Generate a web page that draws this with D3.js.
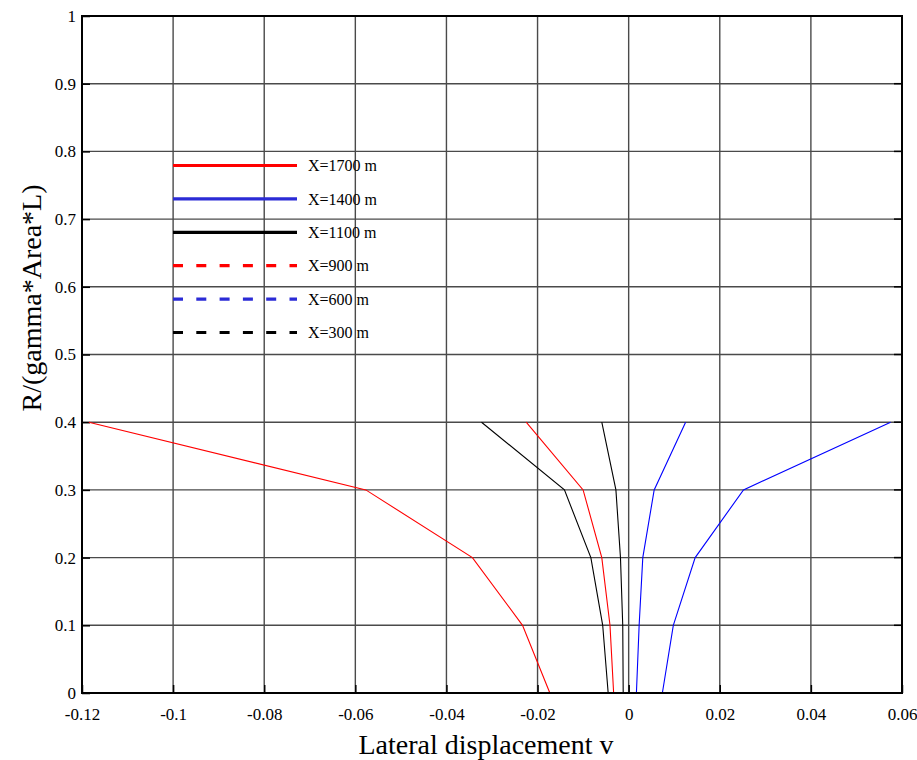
<!DOCTYPE html>
<html>
<head>
<meta charset="utf-8">
<script src="https://cdn.jsdelivr.net/npm/d3@7"></script>
<style>
  html, body { margin: 0; padding: 0; background: #fff; }
  svg { display: block; }
  svg text { font-family: "Liberation Serif", serif; fill: #000; }
</style>
</head>
<body>
<svg id="chart" width="917" height="760"></svg>
<script>
// ---- data ----
const levels = [0, 0.1, 0.2, 0.3, 0.4];
const seriesNames = ["X=1700 m", "X=1400 m", "X=1100 m", "X=900 m", "X=600 m", "X=300 m"];
const v1700 = [-0.0173, -0.0233, -0.0343, -0.0577, -0.1185];
const v1400 = [0.0074, 0.0098, 0.0146, 0.0252, 0.0575];
const v1100 = [-0.0045, -0.0057, -0.0083, -0.0141, -0.0323];
const v900  = [-0.0033, -0.0041, -0.0059, -0.0100, -0.0225];
const v600  = [0.0017, 0.0023, 0.0031, 0.0056, 0.0125];
const v300  = [-0.0012, -0.0013, -0.0018, -0.0028, -0.0059];
const seriesValues = [v1700, v1400, v1100, v900, v600, v300];
const seriesColors = ["#ff0000", "#2b2bd6", "#000000", "#ff0000", "#2b2bd6", "#000000"];
const lineColors = ["#ff0000", "#0000ff", "#000000", "#ff0000", "#0000ff", "#000000"];
const seriesDashed = [false, false, false, true, true, true];
const xTicks = [-0.12, -0.1, -0.08, -0.06, -0.04, -0.02, 0, 0.02, 0.04, 0.06];
const xTickLabels = ["-0.12", "-0.1", "-0.08", "-0.06", "-0.04", "-0.02", "0", "0.02", "0.04", "0.06"];
const yTicks = [0, 0.1, 0.2, 0.3, 0.4, 0.5, 0.6, 0.7, 0.8, 0.9, 1];
const yTickLabels = ["0", "0.1", "0.2", "0.3", "0.4", "0.5", "0.6", "0.7", "0.8", "0.9", "1"];

// ---- layout ----
const L = 82, R = 902, T = 16, B = 693;
const FONT = "Liberation Serif";
const svg = d3.select("#chart");
const x = d3.scaleLinear().domain([-0.12, 0.06]).range([L, R]);
const y = d3.scaleLinear().domain([0, 1]).range([B, T]);

// grid
const grid = svg.append("g");
grid.selectAll("line.gx").data(xTicks.slice(1, -1)).join("line")
  .attr("x1", d => x(d)).attr("x2", d => x(d)).attr("y1", T).attr("y2", B)
  .attr("stroke", "#4a4a4a").attr("stroke-width", 1.4);
grid.selectAll("line.gy").data(yTicks.slice(1, -1)).join("line")
  .attr("y1", d => y(d)).attr("y2", d => y(d)).attr("x1", L).attr("x2", R)
  .attr("stroke", "#4a4a4a").attr("stroke-width", 1.4);

// axes
const xAxis = d3.axisBottom(x).tickValues(xTicks).tickFormat((d, i) => xTickLabels[i]).tickSize(-8).tickPadding(13);
const yAxis = d3.axisLeft(y).tickValues(yTicks).tickFormat((d, i) => yTickLabels[i]).tickSize(-8).tickPadding(6);
const gx = svg.append("g").attr("transform", `translate(0,${B})`).call(xAxis);
const gy = svg.append("g").attr("transform", `translate(${L},0)`).call(yAxis);
[gx, gy].forEach(g => {
  g.attr("font-family", FONT).attr("font-size", 17);
  g.select(".domain").remove();
  g.selectAll(".tick line").attr("stroke", "#000").attr("stroke-width", 1.5);
  g.selectAll(".tick text").style("font-family", FONT).style("font-size", "17px").attr("fill", "#000");
});
gx.selectAll(".tick text").attr("dy", "0.85em");
// right ticks
svg.append("g").selectAll("line").data(yTicks).join("line")
  .attr("x1", R).attr("x2", R - 8).attr("y1", d => y(d)).attr("y2", d => y(d))
  .attr("stroke", "#000").attr("stroke-width", 1.5);

// series lines
const line = d3.line().x(d => x(d[0])).y(d => y(d[1]));
svg.append("g").selectAll("path").data(seriesValues).join("path")
  .attr("d", vals => line(vals.map((v, i) => [v, levels[i]])))
  .attr("fill", "none")
  .attr("stroke", (d, i) => lineColors[i])
  .attr("stroke-width", 1.1);

// frame
svg.append("rect").attr("x", L).attr("y", T).attr("width", R - L).attr("height", B - T)
  .attr("fill", "none").attr("stroke", "#000").attr("stroke-width", 2);

// legend
const legY0 = 165.5, legDy = 33.4;
const leg = svg.append("g");
seriesNames.forEach((name, i) => {
  const yy = legY0 + i * legDy;
  leg.append("line").attr("x1", 173).attr("x2", 297).attr("y1", yy).attr("y2", yy)
    .attr("stroke", seriesColors[i]).attr("stroke-width", 3.2)
    .attr("stroke-dasharray", seriesDashed[i] ? "10,13.3" : null);
  leg.append("text").attr("x", 308).attr("y", yy).attr("dy", "0.35em")
    .style("font-family", FONT).style("font-size", "16px").text(name);
});

// axis titles
svg.append("text").attr("x", 486).attr("y", 754)
  .attr("text-anchor", "middle").style("font-family", FONT).style("font-size", "28px").text("Lateral displacement v");
svg.append("text").attr("transform", `translate(41,298) rotate(-90)`)
  .attr("text-anchor", "middle").style("font-family", FONT).style("font-size", "28px").text("R/(gamma*Area*L)");
</script>
</body>
</html>
